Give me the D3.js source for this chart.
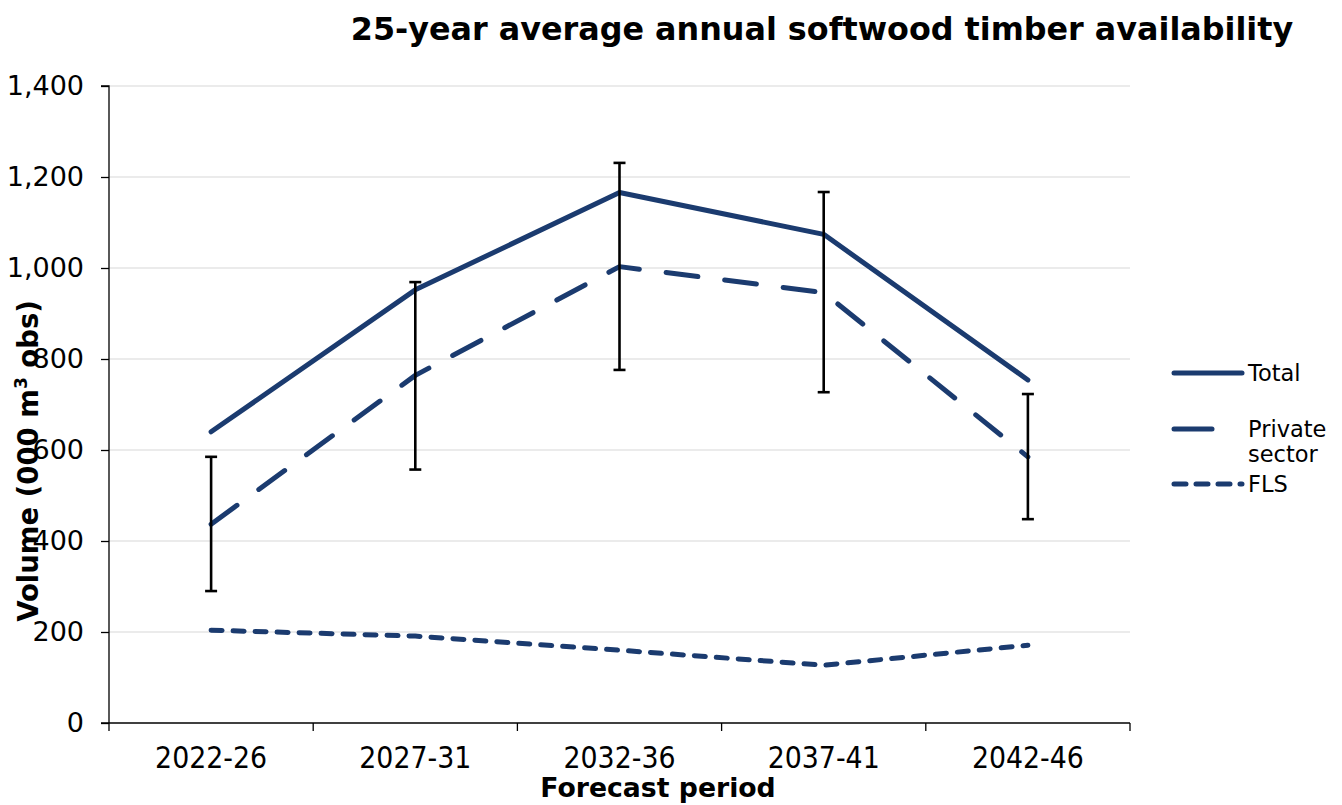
<!DOCTYPE html>
<html><head><meta charset="utf-8">
<script src="https://cdn.jsdelivr.net/npm/d3@7"></script>
<style>body{margin:0;background:#fff}svg{display:block}</style>
</head><body>
<svg id="c" width="1342" height="805"></svg>
<script>
const categories = ["2022-26","2027-31","2032-36","2037-41","2042-46"];
const totalValues = [640, 952, 1166, 1074, 754];
const privateValues = [437, 764, 1003, 946, 585];
const flsValues = [204, 191, 160, 127, 171];
const privateErrLow = [290, 557, 776, 727, 448];
const privateErrHigh = [585, 969, 1231, 1167, 723];
const yTicks = [0,200,400,600,800,1000,1200,1400];

const svg = d3.select("#c");
const L = 109, R = 1130, T = 86, B = 723;
const x = d3.scaleBand().domain(categories).range([L, R]);
const y = d3.scaleLinear().domain([0, 1400]).range([B, T]);
const color = "#1b3b6f";
const fmt = d3.format(",");

// gridlines
svg.append("g").selectAll("line").data(yTicks.filter(d => d > 0)).join("line")
  .attr("x1", L).attr("x2", R).attr("y1", d => y(d)).attr("y2", d => y(d))
  .attr("stroke", "#e4e4e4").attr("stroke-width", 1.3);

// y axis
const ya = svg.append("g").attr("transform", `translate(${L},0)`)
  .call(d3.axisLeft(y).tickValues(yTicks).tickFormat(fmt).tickSize(8).tickPadding(17));
ya.select(".domain").attr("stroke", "#000").attr("stroke-width", 1.3).attr("d", `M-8,${T}H0V${B}`);
ya.selectAll(".tick line").attr("stroke", "#000").attr("stroke-width", 1.3);
ya.selectAll(".tick text").attr("font-family", "DejaVu Sans").attr("font-size", 27).attr("fill", "#000");

// x axis
const xa = svg.append("g").attr("transform", `translate(0,${B})`)
  .call(d3.axisBottom(x).tickSize(0).tickPadding(24));
xa.select(".domain").attr("stroke", "#000").attr("stroke-width", 1.3).attr("d", `M${L-8},0H${R}`);
xa.selectAll(".tick text").attr("font-family", "DejaVu Sans Condensed").attr("font-size", 29.8).attr("fill", "#000");
const bounds = categories.map(c => x(c)).concat([R]);
svg.append("g").selectAll("line").data(bounds).join("line")
  .attr("x1", d => d).attr("x2", d => d).attr("y1", B).attr("y2", B + 8)
  .attr("stroke", "#000").attr("stroke-width", 1.3);

const cx = c => x(c) + x.bandwidth() / 2;
const line = d3.line().x(d => cx(d.c)).y(d => y(d.v));
const series = [
  { name: "Total", vals: totalValues, dash: null },
  { name: "Private sector", vals: privateValues, dash: "32,27" },
  { name: "FLS", vals: flsValues, dash: "11,11" }
];
series.forEach(s => {
  svg.append("path").datum(categories.map((c, i) => ({ c, v: s.vals[i] })))
    .attr("d", line).attr("fill", "none").attr("stroke", color).attr("stroke-width", 5)
    .attr("stroke-linecap", "round").attr("stroke-linejoin", "round")
    .attr("stroke-dasharray", s.dash);
});

// error bars
const eb = svg.append("g").attr("stroke", "#000").attr("stroke-width", 2.6);
categories.forEach((c, i) => {
  const px = cx(c);
  eb.append("line").attr("x1", px).attr("x2", px).attr("y1", y(privateErrLow[i])).attr("y2", y(privateErrHigh[i]));
  [privateErrLow[i], privateErrHigh[i]].forEach(v =>
    eb.append("line").attr("x1", px - 6).attr("x2", px + 6).attr("y1", y(v)).attr("y2", y(v)));
});

// title
svg.append("text").attr("x", 822).attr("y", 40).attr("text-anchor", "middle")
  .attr("font-family", "DejaVu Sans").attr("font-weight", "bold").attr("font-size", 31.8)
  .text("25-year average annual softwood timber availability");

// axis titles
svg.append("text").attr("x", 658).attr("y", 797).attr("text-anchor", "middle")
  .attr("font-family", "DejaVu Sans").attr("font-weight", "bold").attr("font-size", 26.7)
  .text("Forecast period");
const yt = svg.append("text").attr("transform", "translate(38,461) rotate(-90)").attr("text-anchor", "middle")
  .attr("font-family", "DejaVu Sans").attr("font-weight", "bold").attr("font-size", 27.5);
yt.append("tspan").text("Volume (000 m");
yt.append("tspan").attr("font-size", 17).attr("dy", -11).text("3");
yt.append("tspan").attr("dy", 11).text(" obs)");

// legend
const lg = [
  { s: series[0], y: 373, lines: ["Total"] },
  { s: series[1], y: 429, lines: ["Private", "sector"] },
  { s: series[2], y: 484, lines: ["FLS"] }
];
lg.forEach(d => {
  svg.append("line").attr("x1", 1174).attr("x2", 1242).attr("y1", d.y).attr("y2", d.y)
    .attr("stroke", color).attr("stroke-width", 5).attr("stroke-linecap", "round")
    .attr("stroke-dasharray", d.s.name === "Private sector" ? "38,30" : d.s.dash === null ? null : "12,10");
  d.lines.forEach((t, k) => {
    svg.append("text").attr("x", 1248).attr("y", d.y + 8 + k * 25)
      .attr("font-family", "DejaVu Sans").attr("font-size", 22.5).text(t);
  });
});
</script>
</body></html>
